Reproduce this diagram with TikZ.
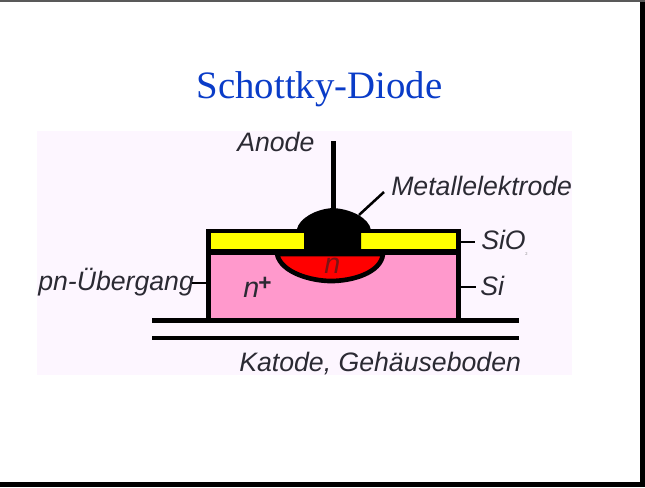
\documentclass[tikz,border=0pt]{standalone}
\usepackage{fontspec}
\setmainfont{Liberation Sans}
\newfontfamily\titlefont{Liberation Serif}
\definecolor{bgpink}{HTML}{FDF6FF}
\definecolor{sipink}{HTML}{FF99CC}
\definecolor{oxide}{HTML}{FFFF00}
\definecolor{nregion}{HTML}{FF0000}
\definecolor{labelcol}{HTML}{2B2A33}
\definecolor{titleblue}{HTML}{0A3CC8}
\definecolor{nred}{HTML}{7A1414}
\tikzset{
  lbl/.style={inner sep=0pt,anchor=base west,text=labelcol,font=\fontsize{20}{22}\selectfont\itshape},
  leader/.style={draw=black,line width=1.9pt},
  thick line/.style={draw=black,line width=3.5pt}
}
\begin{document}
\begin{tikzpicture}[x=0.75pt,y=-0.75pt]
\useasboundingbox (0,0) rectangle (645,487);
\fill[white] (0,0) rectangle (645,487);
% slide frame
\fill[black] (640,2) rectangle (645,487);
\fill[black] (0,482) rectangle (645,487);
\fill[black!65] (0,0) rectangle (645,1.5);
% picture background
\fill[bgpink] (37,131) rectangle (572,375);
% title
\node[inner sep=0pt,anchor=base,text=titleblue,font=\titlefont\fontsize{29.1}{32}\selectfont] (title) at (319.5,98) {Schottky-Diode};
% silicon and oxide
\fill[black] (206,229) rectangle (461,323);
\fill[sipink] (210.5,255) rectangle (456,318);
\fill[oxide] (210.5,233) rectangle (304,249);
\fill[oxide] (361,233) rectangle (456,249);
% n region
\path[fill=nregion,draw=black,line width=3.5pt] (277,254) .. controls (281,273) and (312,281) .. (331,281) .. controls (352,281) and (381,273) .. (383,254) -- cycle;
% metal electrode
\fill[black] (297,229) .. controls (299,219) and (315,209) .. (333,208) .. controls (351,209) and (369,218) .. (371,230) -- (361,233) -- (361,254) -- (304,254) -- (304,233) -- cycle;
% housing lines
\coordinate (h1l) at (152,320.5);
\coordinate (h1r) at (519,320.5);
\coordinate (h2l) at (152,338);
\coordinate (h2r) at (519,338);
\draw[thick line] (h1l) -- (h1r);
\draw[thick line] (h2l) -- (h2r);
% labels
\node[lbl] (anode) at (237,151) {Anode};
\node[lbl] (metal) at (391,195) {Metallelektrode};
\node[lbl] (sio) at (481,249) {SiO};
\node[inner sep=0pt,anchor=base west,text=gray,font=\fontsize{3}{4}\selectfont] (sub) at (525,255) {2};
\node[lbl] (si) at (480,295) {Si};
\node[lbl] (pn) at (38,290) {pn-Übergang};
\node[lbl,font=\fontsize{21.5}{24}\selectfont\itshape] (nplus) at (243,297) {n};
\node[inner sep=0pt,anchor=center,text=labelcol,font=\fontsize{17}{20}\selectfont\bfseries] (plus) at (265,284) {+};
\node[lbl,text=nred,font=\fontsize{21.5}{24}\selectfont\itshape] (nn) at (324,273.5) {n};
\node[lbl] (katode) at (239,371) {Katode, Gehäuseboden};
% leaders
\coordinate (stemtop) at (333.5,141);
\coordinate (stembot) at (333.5,210);
\coordinate (mleft) at (359,215);
\coordinate (mright) at (384,192);
\coordinate (sa) at (461,242);
\coordinate (sb) at (475,242);
\coordinate (ia) at (461,287);
\coordinate (ib) at (476,287);
\coordinate (pa) at (192,283);
\coordinate (pb) at (206,283);
\draw[thick line] (stemtop) -- (stembot);
\draw[leader] (mleft) -- (mright);
\draw[leader] (sa) -- (sb);
\draw[leader] (ia) -- (ib);
\draw[leader] (pa) -- (pb);
\end{tikzpicture}
\end{document}
